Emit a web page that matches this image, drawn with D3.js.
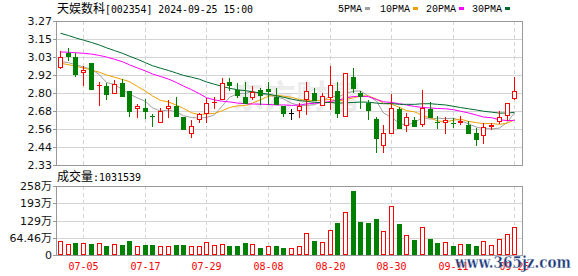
<!DOCTYPE html>
<html>
<head>
<meta charset="utf-8">
<script src="https://cdn.jsdelivr.net/npm/d3@7"></script>
<style>
  html, body { margin: 0; padding: 0; background: #fff; }
  svg { display: block; }
</style>
</head>
<body>
<svg id="chart" width="578" height="276"></svg>
<script>
// trading days shown (07-02 .. 09-25)
const dates = [
  '07-02','07-03','07-04','07-05','07-08','07-09','07-10','07-11','07-12','07-15',
  '07-16','07-17','07-18','07-19','07-22','07-23','07-24','07-25','07-26','07-29',
  '07-30','07-31','08-01','08-02','08-05','08-06','08-07','08-08','08-09','08-12',
  '08-13','08-14','08-15','08-16','08-19','08-20','08-21','08-22','08-23','08-26',
  '08-27','08-28','08-29','08-30','09-02','09-03','09-04','09-05','09-06','09-09',
  '09-10','09-11','09-12','09-13','09-18','09-19','09-20','09-23','09-24','09-25'
];
const open = [
  2.968, 3.059, 3.033, 2.935, 2.996, 2.850, 2.846, 2.798, 2.865, 2.813,
  2.702, 2.704, 2.652, 2.613, 2.700, 2.717, 2.645, 2.541, 2.628, 2.671,
  2.741, 2.759, 2.870, 2.819, 2.776, 2.776, 2.817, 2.824, 2.776, 2.715,
  2.671, 2.687, 2.759, 2.798, 2.720, 2.776, 2.813, 2.652, 2.904, 2.803,
  2.733, 2.630, 2.460, 2.537, 2.695, 2.591, 2.624, 2.596, 2.695, 2.613,
  2.611, 2.607, 2.609, 2.591, 2.537, 2.524, 2.584, 2.617, 2.654, 2.765
];
const high = [
  3.074, 3.092, 3.059, 2.976, 2.996, 2.874, 2.867, 2.885, 2.891, 2.813,
  2.726, 2.761, 2.661, 2.700, 2.752, 2.774, 2.645, 2.624, 2.671, 2.769,
  2.776, 2.896, 2.896, 2.867, 2.874, 2.846, 2.831, 2.874, 2.831, 2.715,
  2.695, 2.733, 2.874, 2.831, 2.798, 2.978, 2.874, 2.928, 2.965, 2.813,
  2.754, 2.645, 2.591, 2.791, 2.710, 2.667, 2.645, 2.819, 2.739, 2.647,
  2.645, 2.640, 2.650, 2.619, 2.569, 2.602, 2.602, 2.682, 2.733, 2.904
];
const low = [
  2.963, 3.015, 2.913, 2.852, 2.824, 2.722, 2.761, 2.798, 2.782, 2.652,
  2.645, 2.635, 2.586, 2.613, 2.645, 2.652, 2.567, 2.515, 2.609, 2.609,
  2.704, 2.759, 2.819, 2.776, 2.737, 2.759, 2.728, 2.728, 2.728, 2.650,
  2.628, 2.645, 2.663, 2.754, 2.720, 2.695, 2.645, 2.648, 2.808, 2.702,
  2.630, 2.413, 2.413, 2.537, 2.573, 2.554, 2.586, 2.586, 2.645, 2.573,
  2.542, 2.578, 2.598, 2.541, 2.460, 2.475, 2.563, 2.602, 2.624, 2.759
];
const close = [
  3.033, 3.043, 2.924, 2.950, 2.824, 2.854, 2.793, 2.859, 2.782, 2.682,
  2.717, 2.684, 2.648, 2.680, 2.715, 2.652, 2.567, 2.584, 2.663, 2.733,
  2.743, 2.865, 2.852, 2.787, 2.737, 2.808, 2.787, 2.813, 2.728, 2.667,
  2.671, 2.717, 2.813, 2.754, 2.780, 2.852, 2.667, 2.928, 2.834, 2.782,
  2.687, 2.504, 2.537, 2.700, 2.573, 2.641, 2.586, 2.700, 2.645, 2.609,
  2.622, 2.604, 2.617, 2.541, 2.500, 2.580, 2.591, 2.645, 2.733, 2.813
];
// volume in 万
const volume = [
  53.4, 41.1, 46.0, 44.8, 41.1, 44.8, 33.6, 41.1, 37.4, 53.4,
  32.5, 37.4, 37.4, 32.5, 32.5, 37.4, 37.4, 32.5, 33.6, 49.7,
  37.4, 41.1, 33.6, 33.6, 46.0, 41.1, 26.2, 33.6, 33.6, 26.2,
  26.2, 33.6, 83.3, 53.4, 48.6, 93.4, 120.7, 160.7, 240.3, 124.4,
  120.7, 135.7, 89.7, 183.1, 117.7, 73.6, 56.1, 103.5, 58.7, 46.0,
  48.6, 33.6, 41.1, 41.1, 33.6, 51.2, 36.2, 58.7, 78.5, 103.1539
];
const ma5 = [
  3.005, 2.998, 2.985, 2.970, 2.955, 2.919, 2.869, 2.856, 2.822, 2.794,
  2.767, 2.745, 2.703, 2.682, 2.689, 2.676, 2.652, 2.640, 2.636, 2.640,
  2.658, 2.718, 2.771, 2.796, 2.797, 2.810, 2.794, 2.786, 2.775, 2.761,
  2.733, 2.719, 2.719, 2.724, 2.747, 2.783, 2.773, 2.796, 2.812, 2.813,
  2.780, 2.747, 2.669, 2.642, 2.600, 2.591, 2.607, 2.640, 2.629, 2.636,
  2.632, 2.636, 2.619, 2.599, 2.577, 2.568, 2.566, 2.571, 2.610, 2.672
];
const ma10 = [
  2.994, 2.985, 2.975, 2.963, 2.950, 2.935, 2.918, 2.903, 2.888, 2.874,
  2.843, 2.812, 2.781, 2.752, 2.741, 2.721, 2.699, 2.671, 2.659, 2.664,
  2.667, 2.685, 2.705, 2.716, 2.718, 2.734, 2.756, 2.779, 2.785, 2.779,
  2.772, 2.757, 2.753, 2.750, 2.754, 2.758, 2.746, 2.758, 2.768, 2.780,
  2.781, 2.760, 2.733, 2.727, 2.706, 2.685, 2.677, 2.654, 2.636, 2.618,
  2.612, 2.622, 2.630, 2.614, 2.607, 2.600, 2.601, 2.595, 2.604, 2.625
];
const ma20 = [
  3.068, 3.066, 3.063, 3.059, 3.054, 3.045, 3.035, 3.020, 3.004, 2.984,
  2.963, 2.944, 2.924, 2.908, 2.891, 2.868, 2.845, 2.822, 2.795, 2.769,
  2.755, 2.746, 2.742, 2.734, 2.730, 2.728, 2.727, 2.725, 2.722, 2.722,
  2.719, 2.721, 2.729, 2.733, 2.736, 2.746, 2.751, 2.768, 2.777, 2.779,
  2.776, 2.758, 2.743, 2.738, 2.730, 2.722, 2.712, 2.706, 2.702, 2.699,
  2.697, 2.691, 2.681, 2.670, 2.656, 2.643, 2.639, 2.625, 2.620, 2.621
];
const ma30 = [
  3.190, 3.175, 3.160, 3.145, 3.130, 3.113, 3.095, 3.077, 3.059, 3.040,
  3.020, 2.998, 2.978, 2.962, 2.947, 2.930, 2.915, 2.903, 2.890, 2.872,
  2.857, 2.843, 2.831, 2.821, 2.815, 2.808, 2.800, 2.792, 2.782, 2.772,
  2.760, 2.750, 2.746, 2.739, 2.738, 2.738, 2.734, 2.736, 2.738, 2.741,
  2.740, 2.734, 2.730, 2.731, 2.726, 2.726, 2.726, 2.730, 2.730, 2.726,
  2.722, 2.713, 2.705, 2.697, 2.689, 2.681, 2.675, 2.669, 2.669, 2.674
];
const priceTicks = ['2.33', '2.44', '2.56', '2.68', '2.80', '2.92', '3.03', '3.15', '3.27'];
const volTicks = ['0', '64.46万', '129万', '193万', '258万'];
const dateTicks = ['07-05', '07-17', '07-29', '08-08', '08-20', '08-30', '09-11', '09-25'];
const maNames = ['5PMA', '10PMA', '20PMA', '30PMA'];
const maColors = ['#a0a0a0', '#f0a000', '#ff00ff', '#006a30'];

const title = '天娱数科';
const titleRest = '[002354] 2024-09-25 15:00';
const volLabel = '成交量';
const volLast = ':1031539';

const svg = d3.select('#chart');
const left = 56, right = 522;
const pTop = 21, pBot = 165;
const vTop = 186, vBot = 255;

const x = d3.scalePoint().domain(dates).range([60, 514.3]);
const y = d3.scaleLinear().domain([2.33, 3.27]).range([pBot, pTop]);
const yv = d3.scaleLinear().domain([0, 257.84]).range([vBot, vTop]);
const cx = (d) => Math.round(x(d));

const grid = svg.append('g');
const frameColor = '#999';
const gridColor = '#d4d4d4';

// horizontal grid, price panel
priceTicks.forEach((t, k) => {
  const yy = Math.round(y(2.33 + k * 0.1175)) + 0.5;
  if (k > 0 && k < priceTicks.length - 1) {
    grid.append('line').attr('x1', left).attr('x2', right).attr('y1', yy).attr('y2', yy)
      .attr('stroke', gridColor);
  }
  grid.append('line').attr('x1', 53).attr('x2', left).attr('y1', yy).attr('y2', yy)
    .attr('stroke', frameColor);
  svg.append('text').attr('x', 52).attr('y', yy).attr('dy', '0.36em')
    .attr('text-anchor', 'end').attr('font-family', 'DejaVu Sans')
    .attr('font-size', 11).attr('fill', '#111').text(t);
});

// horizontal grid, volume panel
volTicks.forEach((t, k) => {
  const yy = Math.round(yv(k * 64.46)) + 0.5;
  if (k > 0 && k < volTicks.length - 1) {
    grid.append('line').attr('x1', left).attr('x2', right).attr('y1', yy).attr('y2', yy)
      .attr('stroke', gridColor);
  }
  grid.append('line').attr('x1', 53).attr('x2', left).attr('y1', yy).attr('y2', yy)
    .attr('stroke', frameColor);
  svg.append('text').attr('x', 52).attr('y', yy).attr('dy', '0.36em')
    .attr('text-anchor', 'end').attr('font-family', 'DejaVu Sans, Noto Sans CJK SC')
    .attr('font-size', 11).attr('fill', '#111').text(t);
});

// vertical dashed grid + date labels
dateTicks.forEach((t) => {
  const xx = cx(t) + 0.5;
  [[pTop, pBot], [vTop, vBot]].forEach(([a, b]) => {
    grid.append('line').attr('x1', xx).attr('x2', xx).attr('y1', a).attr('y2', b)
      .attr('stroke', gridColor).attr('stroke-dasharray', '4,3');
  });
  svg.append('text').attr('x', xx).attr('y', 270).attr('text-anchor', 'middle')
    .attr('font-family', 'DejaVu Sans Mono').attr('font-size', 10)
    .attr('fill', '#ff0000').text(t);
});

// watermark
svg.append('text').attr('x', 232).attr('y', 108)
  .attr('font-family', 'Noto Sans CJK SC').attr('font-weight', 'bold')
  .attr('font-size', 32).attr('fill', '#ececec').text('东方财富');

// frames
[[pTop, pBot], [vTop, vBot]].forEach(([a, b]) => {
  svg.append('rect').attr('x', left + 0.5).attr('y', a + 0.5)
    .attr('width', right - left).attr('height', b - a)
    .attr('fill', 'none').attr('stroke', frameColor);
});

// moving averages
const mas = [ma5, ma10, ma20, ma30];
mas.forEach((arr, k) => {
  const line = d3.line()
    .x((v, i) => cx(dates[i]) + 0.5)
    .y((v) => y(v));
  svg.append('path').datum(arr).attr('d', line)
    .attr('fill', 'none').attr('stroke', maColors[k]).attr('stroke-width', 1);
});

// candles
const candles = svg.append('g');
dates.forEach((d, i) => {
  const c = cx(d);
  const o = open[i], cl = close[i];
  const col = cl > o ? '#ff0000' : (cl < o ? '#008000' : '#000000');
  const top = Math.round(y(Math.max(o, cl)));
  const bot = Math.round(y(Math.min(o, cl)));
  candles.append('line').attr('x1', c + 0.5).attr('x2', c + 0.5)
    .attr('y1', Math.round(y(high[i]))).attr('y2', Math.round(y(low[i])) + 1)
    .attr('stroke', col);
  if (bot - top < 1) {
    candles.append('line').attr('x1', c - 2).attr('x2', c + 3)
      .attr('y1', top + 0.5).attr('y2', top + 0.5).attr('stroke', col);
  } else if (cl > o) {
    candles.append('rect').attr('x', c - 1.5).attr('y', top + 0.5)
      .attr('width', 4).attr('height', bot - top)
      .attr('fill', '#fff').attr('stroke', col);
  } else {
    candles.append('rect').attr('x', c - 2).attr('y', top)
      .attr('width', 5).attr('height', bot - top + 1).attr('fill', col);
  }
});

// volume bars (colour by close vs previous close)
const bars = svg.append('g');
dates.forEach((d, i) => {
  const c = cx(d);
  const prev = i ? close[i - 1] : open[0];
  const up = close[i] >= prev;
  const top = Math.round(yv(volume[i]));
  if (up) {
    bars.append('rect').attr('x', c - 1.5).attr('y', top + 0.5)
      .attr('width', 4).attr('height', vBot - top - 1)
      .attr('fill', '#fff').attr('stroke', '#ff0000');
  } else {
    bars.append('rect').attr('x', c - 2).attr('y', top)
      .attr('width', 5).attr('height', vBot - top).attr('fill', '#008000');
  }
});

// title
const tt = svg.append('text').attr('x', 57).attr('y', 13).attr('fill', '#000');
tt.append('tspan').attr('font-family', 'Noto Sans CJK SC').attr('font-size', 12).text(title);
tt.append('tspan').attr('font-family', 'DejaVu Sans Mono').attr('font-size', 10.5)
  .attr('textLength', 148).attr('lengthAdjust', 'spacingAndGlyphs').text(titleRest);

// legend
const legX = [338, 380, 426, 472];
maNames.forEach((n, k) => {
  svg.append('text').attr('x', legX[k]).attr('y', 12)
    .attr('font-family', 'Liberation Mono').attr('font-size', 11)
    .attr('textLength', n.length * 6).attr('lengthAdjust', 'spacingAndGlyphs')
    .attr('fill', '#000').text(n);
  svg.append('rect').attr('x', legX[k] + n.length * 6 + 3).attr('y', 7)
    .attr('width', 5).attr('height', 3).attr('fill', maColors[k]);
});

// volume header
const vt = svg.append('text').attr('x', 57).attr('y', 181).attr('fill', '#000');
vt.append('tspan').attr('font-family', 'Noto Sans CJK SC').attr('font-size', 12).text(volLabel);
vt.append('tspan').attr('font-family', 'DejaVu Sans Mono').attr('font-size', 10.5)
  .attr('textLength', 48).attr('lengthAdjust', 'spacingAndGlyphs').text(volLast);

// site mark
svg.append('text').attr('x', 455).attr('y', 268)
  .attr('font-family', 'DejaVu Serif').attr('font-weight', 'bold').attr('font-size', 17)
  .attr('textLength', 116).attr('lengthAdjust', 'spacingAndGlyphs')
  .attr('fill', '#1d3c7a').attr('stroke', '#ffffff').attr('stroke-width', 0.3)
  .text('www.365jz.com');
</script>
</body>
</html>
